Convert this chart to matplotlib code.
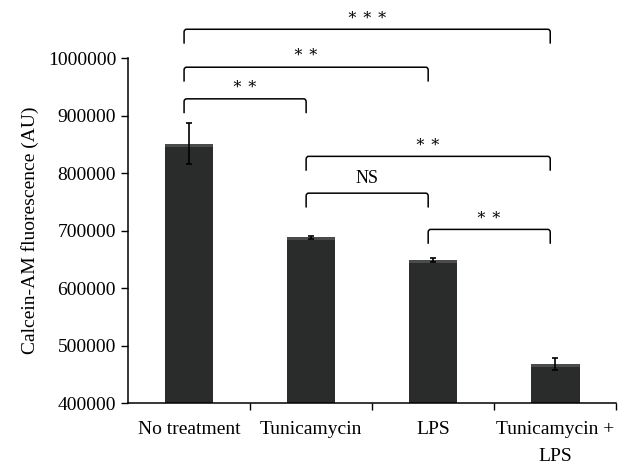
import numpy as np
import matplotlib
matplotlib.use("Agg")
import matplotlib.pyplot as plt
from matplotlib.path import Path
from matplotlib.patches import PathPatch

plt.rcParams['font.family'] = ['Liberation Serif', 'DejaVu Serif']

# datos
groups = ['No treatment', 'Tunicamycin', 'LPS', 'Tunicamycin +\nLPS']
means = [851000, 688000, 648000, 468000]
errors = [36000, 2500, 3500, 11000]

# comparaciones: (barra i, barra j, altura del corchete, etiqueta)
comparisons = [
    (0, 3, 1050000, '∗ ∗ ∗'),
    (0, 2, 984000, '∗ ∗'),
    (0, 1, 929000, '∗ ∗'),
    (1, 3, 829000, '∗ ∗'),
    (1, 2, 765000, 'NS'),
    (2, 3, 702000, '∗ ∗'),
]

bar_color = '#2a2b2b'
x = np.arange(len(groups))
width = 0.4

fig = plt.figure(figsize=(6.18, 4.66), dpi=100)
ax = fig.add_axes([0.207, 0.135, 0.79, 0.7405])

ax.bar(x, means, width, color=bar_color, zorder=2)
# borde superior mas claro
ax.bar(x, [5000] * len(x), width, bottom=np.array(means) - 5000,
       color='#4a4b4b', zorder=2)
ax.errorbar(x, means, yerr=errors, fmt='none', ecolor='black',
            elinewidth=1.2, capsize=2.5, capthick=1.2, zorder=3)

ax.set_xlim(-0.5, len(groups) - 0.5)
ax.set_ylim(400000, 1000000)
ax.set_yticks(np.arange(400000, 1000001, 100000))
ax.set_yticklabels([f'{v:d}' for v in range(400000, 1000001, 100000)])
ax.set_ylabel('Calcein-AM fluorescence (AU)', fontsize=14, labelpad=6)

ax.set_xticks(x)
ax.set_xticklabels(groups, fontsize=14, linespacing=1.75)
ax.set_xticks(np.arange(0.5, len(groups), 1), minor=True)
ax.tick_params(axis='x', which='major', length=0, pad=13)
ax.tick_params(axis='x', which='minor', length=5, width=1, direction='out')
ax.tick_params(axis='y', labelsize=14, length=5, width=1, direction='out')

for s in ['top', 'right']:
    ax.spines[s].set_visible(False)
for s in ['left', 'bottom']:
    ax.spines[s].set_linewidth(1.1)


def bracket(ax, x1, x2, y, label, h=25000, r=0.02, rh=5000):
    verts = [(x1, y - h), (x1, y - rh), (x1, y), (x1 + r, y),
             (x2 - r, y), (x2, y), (x2, y - rh), (x2, y - h)]
    codes = [Path.MOVETO, Path.LINETO, Path.CURVE3, Path.CURVE3,
             Path.LINETO, Path.CURVE3, Path.CURVE3, Path.LINETO]
    ax.add_patch(PathPatch(Path(verts, codes), fill=False, lw=1.1,
                           edgecolor='black', clip_on=False))
    ax.text((x1 + x2) / 2, y + 10000, label, ha='center', va='bottom',
            fontsize=11.5 if '∗' in label else 13, clip_on=False)


for i, j, y, lab in comparisons:
    bracket(ax, i - 0.04, j - 0.04, y, lab)

fig.savefig('out.png', dpi=100)
